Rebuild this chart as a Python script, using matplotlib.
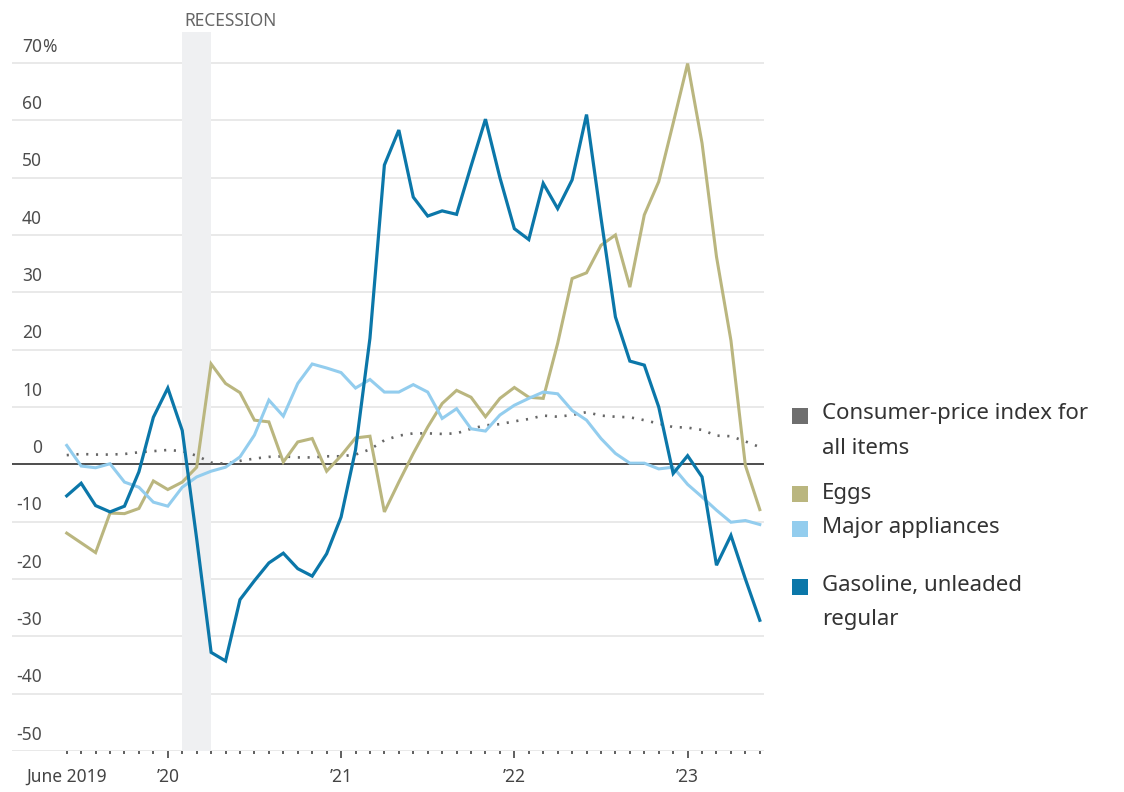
import matplotlib
matplotlib.use("Agg")
import matplotlib.pyplot as plt
from matplotlib.patches import Rectangle
from matplotlib.transforms import blended_transform_factory
import numpy as np

plt.rcParams['font.family'] = ['Noto Sans', 'DejaVu Sans']

# ---- data (monthly, June 2019 .. June 2023, year-over-year % change) ----
months = ["Jun 2019", "Jul 2019", "Aug 2019", "Sep 2019", "Oct 2019", "Nov 2019", "Dec 2019",
          "Jan 2020", "Feb 2020", "Mar 2020", "Apr 2020", "May 2020", "Jun 2020", "Jul 2020",
          "Aug 2020", "Sep 2020", "Oct 2020", "Nov 2020", "Dec 2020",
          "Jan 2021", "Feb 2021", "Mar 2021", "Apr 2021", "May 2021", "Jun 2021", "Jul 2021",
          "Aug 2021", "Sep 2021", "Oct 2021", "Nov 2021", "Dec 2021",
          "Jan 2022", "Feb 2022", "Mar 2022", "Apr 2022", "May 2022", "Jun 2022", "Jul 2022",
          "Aug 2022", "Sep 2022", "Oct 2022", "Nov 2022", "Dec 2022",
          "Jan 2023", "Feb 2023", "Mar 2023", "Apr 2023", "May 2023", "Jun 2023"]

cpi_all = [1.6, 1.8, 1.7, 1.7, 1.8, 2.1, 2.3, 2.5, 2.3, 1.5,
           0.3, 0.1, 0.6, 1.0, 1.3, 1.4, 1.2, 1.2, 1.4, 1.4,
           1.7, 2.6, 4.2, 5.0, 5.4, 5.4, 5.3, 5.4, 6.2, 6.8,
           7.0, 7.5, 7.9, 8.5, 8.3, 8.6, 9.1, 8.5, 8.3, 8.2,
           7.7, 7.1, 6.5, 6.4, 6.0, 5.0, 4.9, 4.0, 3.0]

eggs = [-12.0, -13.7, -15.4, -8.5, -8.6, -7.7, -2.9, -4.4, -3.1, -0.5,
        17.5, 14.1, 12.5, 7.7, 7.4, 0.4, 3.9, 4.5, -1.2, 1.5,
        4.6, 4.9, -8.3, -3.1, 1.9, 6.5, 10.6, 12.9, 11.7, 8.3,
        11.5, 13.4, 11.7, 11.5, 21.1, 32.4, 33.4, 38.2, 40.0, 30.9,
        43.5, 49.3, 59.5, 69.9, 56.0, 36.2, 21.6, -0.2, -7.9]

appliances = [3.3, -0.3, -0.6, 0.1, -3.1, -4.0, -6.6, -7.3, -4.0, -2.2,
              -1.2, -0.5, 1.3, 5.1, 11.2, 8.4, 14.1, 17.5, 16.8, 16.0,
              13.3, 14.8, 12.6, 12.6, 13.9, 12.6, 8.0, 9.7, 6.2, 5.8,
              8.6, 10.3, 11.5, 12.6, 12.3, 9.4, 7.7, 4.5, 1.9, 0.2,
              0.2, -0.8, -0.5, -3.5, -5.7, -8.0, -10.1, -9.8, -10.5]

gasoline = [-5.5, -3.3, -7.2, -8.3, -7.3, -1.3, 8.2, 13.3, 5.9, -13.0,
            -32.8, -34.3, -23.6, -20.3, -17.2, -15.5, -18.2, -19.5, -15.6, -9.2,
            2.5, 22.0, 52.2, 58.3, 46.6, 43.3, 44.2, 43.6, 52.0, 60.2,
            50.0, 41.1, 39.2, 49.0, 44.6, 49.6, 61.0, 43.0, 25.7, 18.0,
            17.3, 10.0, -1.6, 1.5, -2.2, -17.6, -12.4, -20.0, -27.2]

y_ticks = [70, 60, 50, 40, 30, 20, 10, 0, -10, -20, -30, -40, -50]
x_tick_labels = {"Jun 2019": "June 2019", "Jan 2020": "\u201920", "Jan 2021": "\u201921",
                 "Jan 2022": "\u201922", "Jan 2023": "\u201923"}
recession = ("Feb 2020", "Apr 2020")

series_names = ["Consumer-price index for\nall items", "Eggs", "Major appliances",
                "Gasoline, unleaded\nregular"]
series_colors = ["#6e6e6e", "#bab67f", "#93cdee", "#0b77a9"]

# ---- figure ----
W, H = 1124, 792
fig = plt.figure(figsize=(W / 100, H / 100), dpi=100)
ax_l, ax_r, ax_t, ax_b = 12, 764, 32, 751
ax = fig.add_axes([ax_l / W, 1 - ax_b / H, (ax_r - ax_l) / W, (ax_b - ax_t) / H])

x = np.arange(len(months))
ax.set_xlim(-3.79, 48.29)
ax.set_ylim(-50, 75.4)

for s in ax.spines.values():
    s.set_visible(False)

# gridlines
for v in y_ticks:
    ax.axhline(v, color="#e9e9e9", lw=1.4, zorder=0)
ax.axhline(0, color="#333333", lw=1.2, zorder=2)

# recession shading
r0, r1 = months.index(recession[0]), months.index(recession[1])
ax.axvspan(r0, r1, color="#eff0f2", lw=0, zorder=0.5)
fig.text(184 / W, 1 - 21 / H, "RECESSION", fontsize=12.5, color="#666666",
         ha="left", va="center")

# lines
ax.plot(x, cpi_all, color="#666666", lw=1.9, ls=(0, (0.8, 2.9)), zorder=3)
ax.plot(x, eggs, color=series_colors[1], lw=2.2, zorder=4, solid_joinstyle="miter")
ax.plot(x, appliances, color=series_colors[2], lw=2.2, zorder=4, solid_joinstyle="miter")
ax.plot(x, gasoline, color=series_colors[3], lw=2.3, zorder=5, solid_joinstyle="miter")

# y tick labels (inside, above the gridlines)
ax.set_yticks([])
trans = blended_transform_factory(ax.transAxes, ax.transData)
xr = (42 - ax_l) / (ax_r - ax_l)
for v in y_ticks:
    ax.text(xr, v + 1.3, f"{v}", transform=trans, ha="right", va="bottom",
            fontsize=12.5, color="#4d4d4d")
    if v == 70:
        ax.text(xr, v + 1.3, "%", transform=trans, ha="left", va="bottom",
                fontsize=12.5, color="#4d4d4d")

# x ticks
major = [i for i, m in enumerate(months) if m.startswith("Jan")]
minor = [i for i in x if i not in major]
ax.set_xticks(major, labels=[x_tick_labels[months[i]] for i in major])
ax.set_xticks(minor, minor=True,
              labels=[x_tick_labels.get(months[i], "") for i in minor])
ax.tick_params(axis="x", which="major", direction="out", length=5, width=1.2,
               color="#444444", pad=7, labelsize=12.5, labelcolor="#444444")
ax.tick_params(axis="x", which="minor", direction="out", length=2.2, width=1.2,
               color="#444444", pad=9.8, labelsize=12.5, labelcolor="#444444")

# legend
lx_sq, lx_tx = 792, 822
entries = [(416, 414), (494, 493), (529, 528), (587, 585)]
for (sq_y, tx_y), name, col in zip(entries, series_names, series_colors):
    fig.patches.append(Rectangle((lx_sq / W, 1 - (sq_y + 8) / H), 16 / W, 16 / H,
                                 transform=fig.transFigure, color=col, lw=0))
    for k, line in enumerate(name.split("\n")):
        fig.text(lx_tx / W, 1 - (tx_y + 34 * k) / H, line, fontsize=16,
                 color="#333333", ha="left", va="center")

fig.savefig("out.png", dpi=100, facecolor="white")
